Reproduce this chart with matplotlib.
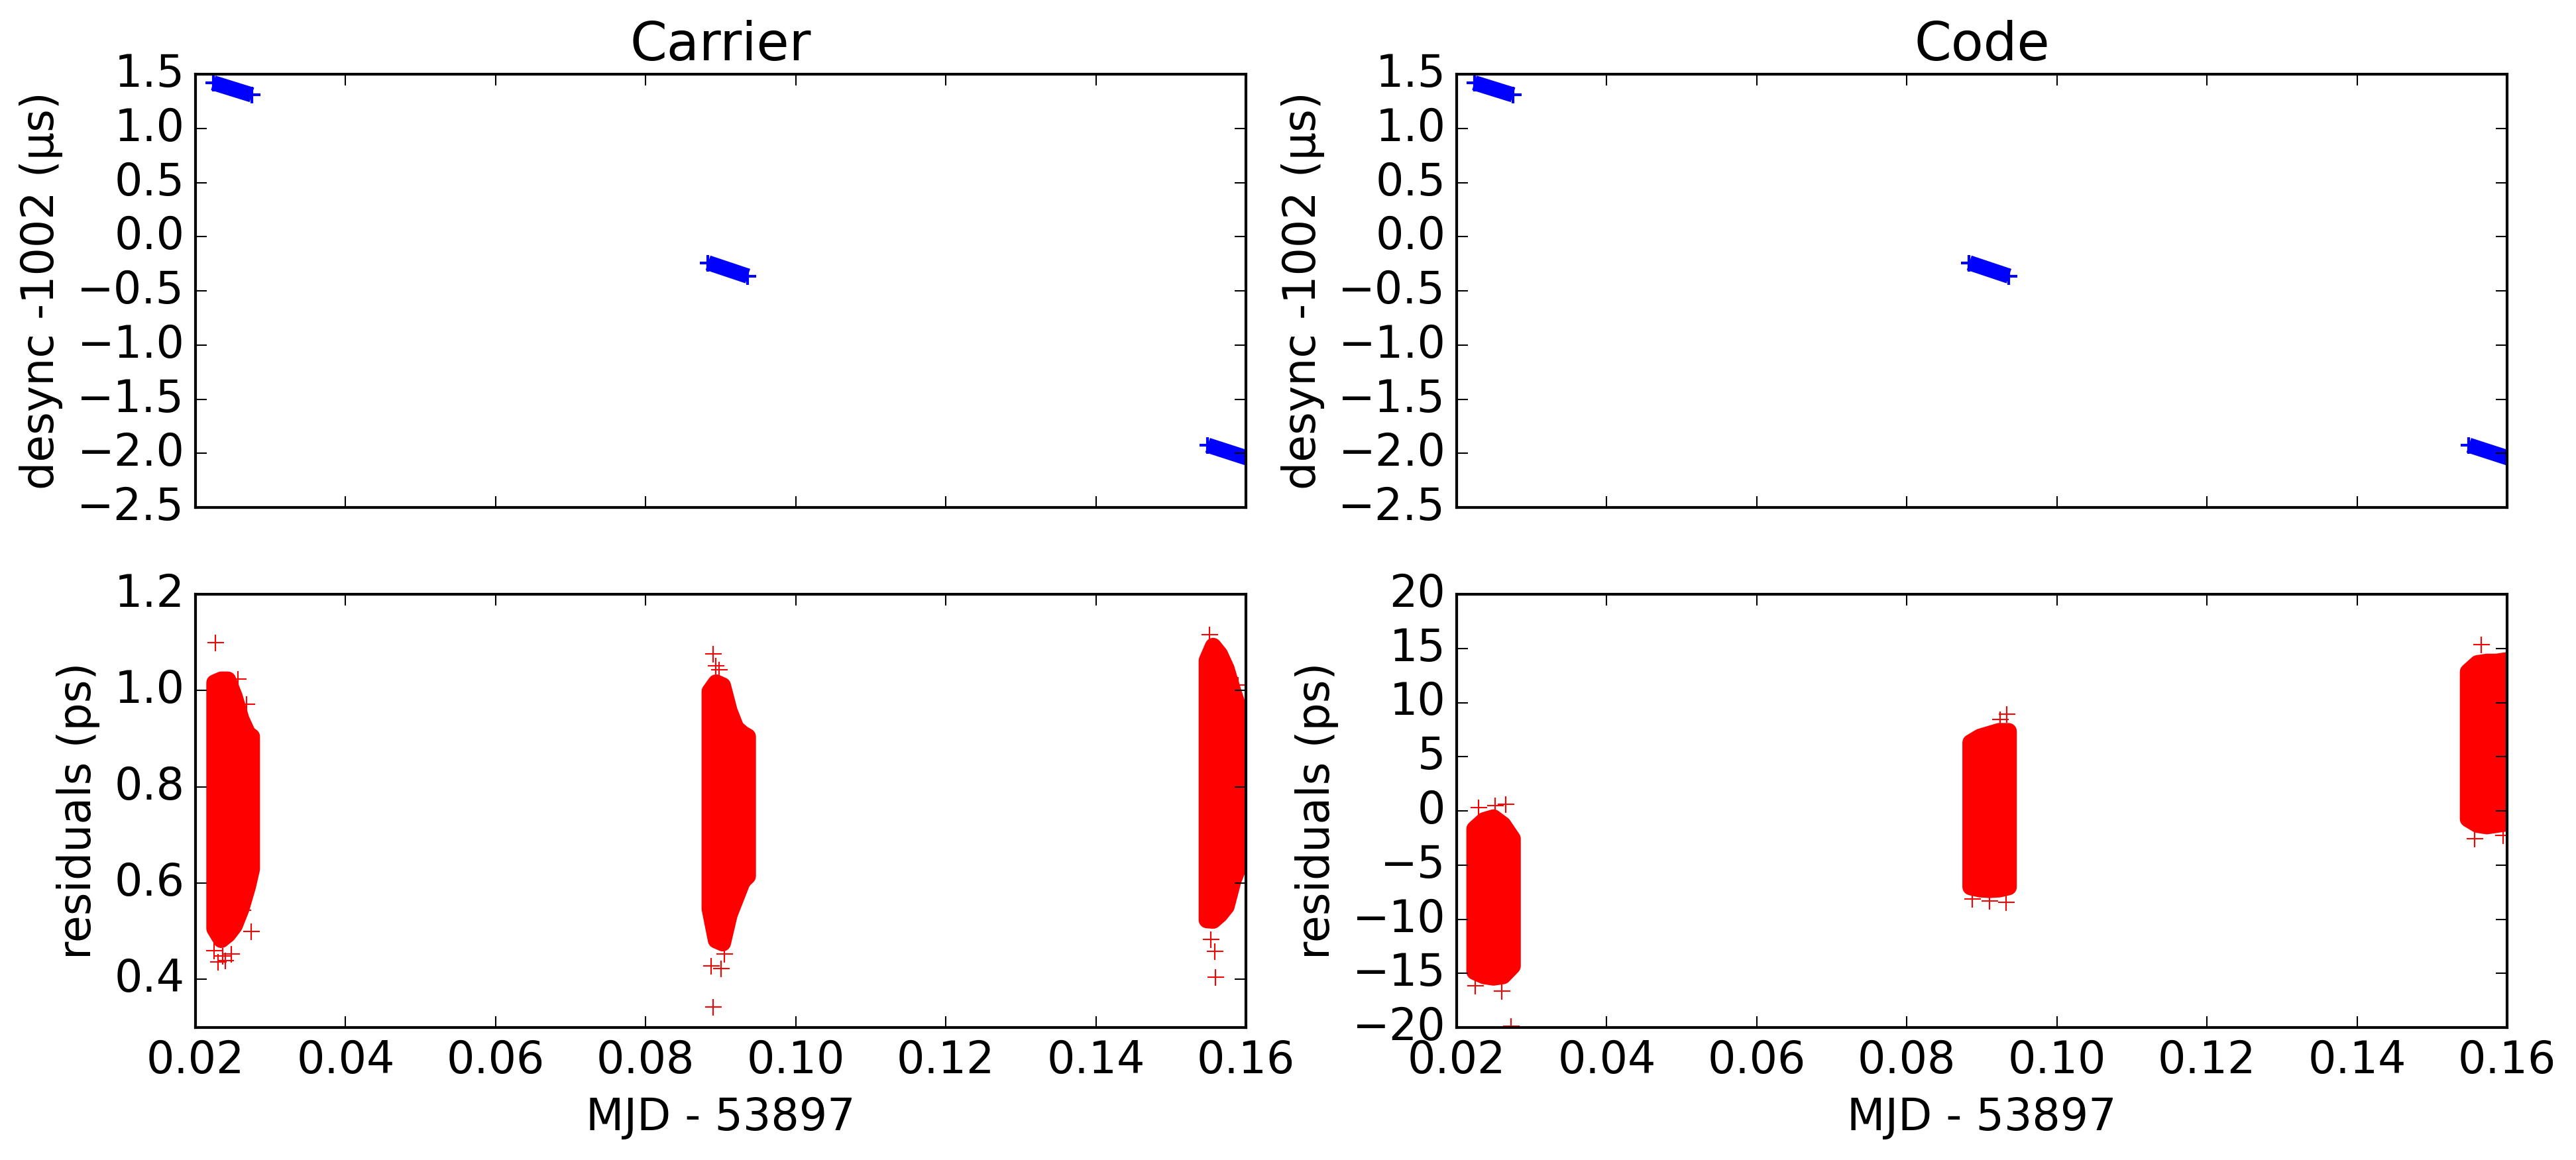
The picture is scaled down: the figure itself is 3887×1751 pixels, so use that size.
import matplotlib
matplotlib.use('Agg')
import matplotlib.pyplot as plt

plt.style.use('classic')
plt.rcParams['font.family'] = ['DejaVu Sans']
plt.rcParams['font.size'] = 16

# ---------------- data ----------------
# desync segments (MJD - 53897, microseconds), identical in both panels
seg_x_start = [0.02236, 0.08831, 0.15490]
seg_x_end = [0.02751, 0.09361, 0.16060]
seg_y_start = [1.420, -0.241, -1.925]
seg_y_end = [1.309, -0.364, -2.053]

# carrier residuals (ps): envelope of each dense cluster + isolated points
carr1_x = [0.02250, 0.02339, 0.02427, 0.02515, 0.02604, 0.02692, 0.02745]
carr1_hi = [1.017, 1.023, 1.023, 0.988, 0.941, 0.911, 0.905]
carr1_lo = [0.506, 0.483, 0.494, 0.512, 0.547, 0.594, 0.630]
carr1_out_x = [0.02265, 0.02565, 0.02677, 0.02627, 0.02742, 0.02477, 0.02300, 0.02397, 0.02250, 0.02362]
carr1_out_y = [1.100, 1.024, 0.971, 0.543, 0.499, 0.453, 0.436, 0.439, 0.459, 0.448]

carr2_x = [0.08851, 0.08934, 0.09022, 0.09111, 0.09199, 0.09287, 0.09355]
carr2_hi = [0.999, 1.017, 1.011, 0.958, 0.923, 0.911, 0.905]
carr2_lo = [0.547, 0.482, 0.476, 0.535, 0.570, 0.605, 0.615]
carr2_out_x = [0.08899, 0.08934, 0.08978, 0.09008, 0.08875, 0.08899, 0.09050]
carr2_out_y = [1.076, 1.052, 1.043, 0.422, 0.428, 0.342, 0.453]

carr3_x = [0.15476, 0.15559, 0.15647, 0.15735, 0.15824, 0.15912, 0.16006, 0.16100]
carr3_hi = [1.063, 1.093, 1.076, 1.046, 0.999, 0.958, 0.941, 0.941]
carr3_lo = [0.524, 0.523, 0.535, 0.552, 0.605, 0.640, 0.646, 0.646]
carr3_out_x = [0.15514, 0.15588, 0.15594, 0.15529, 0.15897]
carr3_out_y = [1.116, 0.458, 0.404, 0.483, 1.011]

# code residuals (ps)
code1_x = [0.02235, 0.02361, 0.02487, 0.02613, 0.02740]
code1_hi = [-1.63, -0.85, -0.59, -1.24, -2.54]
code1_lo = [-14.82, -15.21, -15.34, -15.21, -14.30]
code1_out_x = [0.02720, 0.02244, 0.02600, 0.02514, 0.02650, 0.02290]
code1_out_y = [-19.86, -16.13, -16.65, 0.46, 0.59, 0.33]

code2_x = [0.08846, 0.08972, 0.09099, 0.09225, 0.09351]
code2_hi = [6.34, 6.86, 7.12, 7.38, 7.38]
code2_lo = [-7.00, -7.20, -7.25, -7.20, -7.00]
code2_out_x = [0.09332, 0.09240, 0.09099, 0.09320, 0.08870]
code2_out_y = [8.95, 8.43, -8.29, -8.42, -8.16]

code3_x = [0.15476, 0.15602, 0.15728, 0.15855, 0.15981, 0.16134]
code3_hi = [12.87, 13.65, 13.78, 13.78, 13.91, 13.91]
code3_lo = [-0.72, -1.24, -1.37, -1.24, -1.11, -1.11]
code3_out_x = [0.15656, 0.15566, 0.15950]
code3_out_y = [15.35, -2.54, -2.28]

x_ticks = [0.02, 0.04, 0.06, 0.08, 0.10, 0.12, 0.14, 0.16]
desync_ticks = [-2.5, -2.0, -1.5, -1.0, -0.5, 0.0, 0.5, 1.0, 1.5]
carr_ticks = [0.4, 0.6, 0.8, 1.0, 1.2]
code_ticks = [-20, -15, -10, -5, 0, 5, 10, 15, 20]

titles = ['Carrier', 'Code']
desync_label = 'desync -1002 (\u03bcs)'
resid_label = 'residuals (ps)'
x_label = 'MJD - 53897'

# ---------------- figure ----------------
fig = plt.figure(figsize=(3887 / 300, 1751 / 300), dpi=300, facecolor='white')

lefts = [295 / 3887, 2198 / 3887]
w = 1585 / 3887
h = 654 / 1751
top_y0 = 1 - 766 / 1751
bot_y0 = 1 - 1551 / 1751

carrier_clusters = [
    (carr1_x, carr1_hi, carr1_lo, carr1_out_x, carr1_out_y),
    (carr2_x, carr2_hi, carr2_lo, carr2_out_x, carr2_out_y),
    (carr3_x, carr3_hi, carr3_lo, carr3_out_x, carr3_out_y),
]
code_clusters = [
    (code1_x, code1_hi, code1_lo, code1_out_x, code1_out_y),
    (code2_x, code2_hi, code2_lo, code2_out_x, code2_out_y),
    (code3_x, code3_hi, code3_lo, code3_out_x, code3_out_y),
]

for col in range(2):
    ax_t = fig.add_axes([lefts[col], top_y0, w, h])
    ax_b = fig.add_axes([lefts[col], bot_y0, w, h])

    # top: desync
    for xs, xe, ys, ye in zip(seg_x_start, seg_x_end, seg_y_start, seg_y_end):
        ax_t.plot([xs, xe], [ys, ye], color='b', lw=5.5, solid_capstyle='butt')
        ax_t.plot([xs, xe], [ys, ye], 'b+', ms=6, mew=1.0)
    ax_t.set_xlim(0.02, 0.16)
    ax_t.set_ylim(-2.5, 1.5)
    ax_t.set_xticks(x_ticks)
    ax_t.set_yticks(desync_ticks)
    ax_t.tick_params(labelbottom=False)
    ax_t.set_ylabel(desync_label)
    ax_t.set_title(titles[col])

    # bottom: residuals
    clusters = carrier_clusters if col == 0 else code_clusters
    for cx, chi, clo, ox, oy in clusters:
        ax_b.fill_between(cx, clo, chi, facecolor='r', edgecolor='r',
                          linewidth=6, joinstyle='round')
        ax_b.plot(ox, oy, 'r+', ms=6, mew=0.5)
    ax_b.set_xlim(0.02, 0.16)
    ax_b.set_xticks(x_ticks)
    if col == 0:
        ax_b.set_ylim(0.3, 1.2)
        ax_b.set_yticks(carr_ticks)
    else:
        ax_b.set_ylim(-20, 20)
        ax_b.set_yticks(code_ticks)
    ax_b.set_ylabel(resid_label)
    ax_b.set_xlabel(x_label)

fig.savefig('out.png', dpi=300, facecolor='white')
